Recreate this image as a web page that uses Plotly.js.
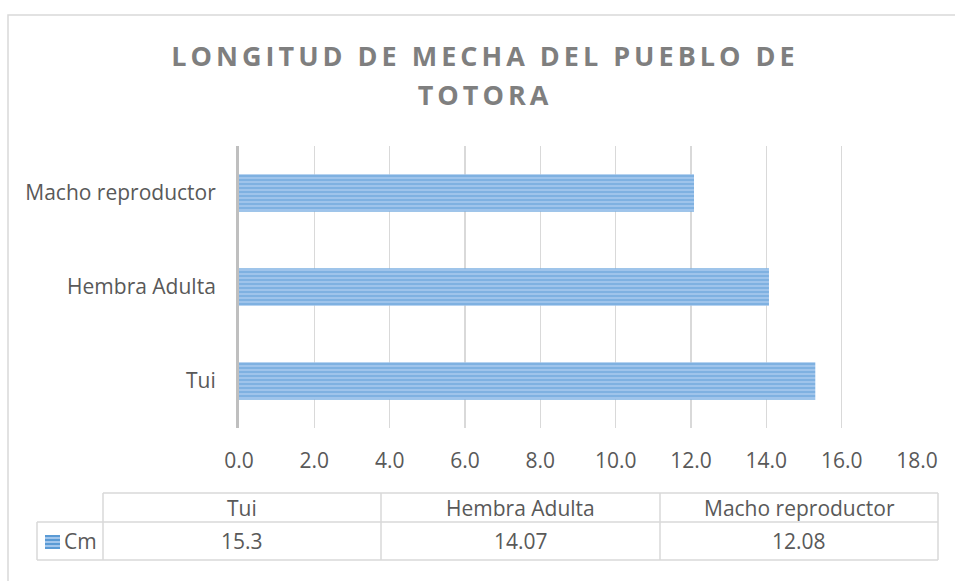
<!DOCTYPE html>
<html>
<head>
<meta charset="utf-8">
<script src="https://cdn.plot.ly/plotly-3.0.1.min.js"></script>
<style>html,body{margin:0;padding:0;background:#fff;}#chart{width:955px;height:581px;}</style>
</head>
<body>
<div id="chart"></div>
<script>
// ---- data ----
const categories = ["Tui", "Hembra Adulta", "Macho reproductor"];
const values = [15.3, 14.07, 12.08];
const seriesName = "Cm";
const xTickVals = [0, 2, 4, 6, 8, 10, 12, 14, 16, 18];
const xTickText = ["0.0", "2.0", "4.0", "6.0", "8.0", "10.0", "12.0", "14.0", "16.0", "18.0"];
const titleText = "LONGITUD DE MECHA DEL PUEBLO DE<br>TOTORA";

// ---- layout geometry (pixels) ----
const W = 955, H = 581;
const M = {l: 239, r: 38, t: 146, b: 153};
const plotW = W - M.l - M.r, plotH = H - M.t - M.b;
const px = p => (p - M.l) / plotW;
const py = p => (H - M.b - p) / plotH;
const colEdges = [103, 381, 660, 938];
const legendLeft = 37;
const rowTop = 493, rowMid = 522, rowBot = 560;
const gridCol = "#D9D9D9";
const textCol = "#595959";
const barDark = "#5B9BD5", barLight = "#A2C6EC";
const FONT = "Open Sans, DejaVu Sans, sans-serif";
const FS = 21;

const shapes = [];
const line = (x0, y0, x1, y1, color, width) => shapes.push({
  type: "line", xref: "paper", yref: "paper",
  x0: px(x0), y0: py(y0), x1: px(x1), y1: py(y1),
  line: {color: color || gridCol, width: width || 1.5}
});
// outer chart border
shapes.push({type: "rect", xref: "paper", yref: "paper",
  x0: px(8), y0: py(15), x1: px(W + 10), y1: py(H + 10),
  line: {color: gridCol, width: 1.5}, fillcolor: "rgba(0,0,0,0)", layer: "below"});
// table
line(colEdges[0], rowTop, colEdges[3], rowTop);
line(legendLeft, rowMid, colEdges[3], rowMid);
line(legendLeft, rowBot, colEdges[3], rowBot);
line(legendLeft, rowMid, legendLeft, rowBot);
colEdges.forEach(c => line(c, rowTop, c, rowBot));
// legend key swatch (striped)
const sw = {x0: 45, x1: 60, y0: 535, y1: 549};
shapes.push({type: "rect", xref: "paper", yref: "paper",
  x0: px(sw.x0), x1: px(sw.x1), y0: py(sw.y0), y1: py(sw.y1),
  line: {width: 0}, fillcolor: barLight});
for (let yy = sw.y0 + 1; yy < sw.y1; yy += 4) {
  line(sw.x0, yy, sw.x1, yy, barDark, 2);
}

const annotations = [];
categories.forEach((c, i) => {
  const cx = (colEdges[i] + colEdges[i + 1]) / 2;
  annotations.push({xref: "paper", yref: "paper", x: px(cx), y: py((rowTop + rowMid) / 2),
    text: c, showarrow: false, xanchor: "center", yanchor: "middle",
    font: {family: FONT, size: FS, color: textCol}});
  annotations.push({xref: "paper", yref: "paper", x: px(cx), y: py((rowMid + rowBot) / 2),
    text: String(values[i]), showarrow: false, xanchor: "center", yanchor: "middle",
    font: {family: FONT, size: FS, color: textCol}});
});
annotations.push({xref: "paper", yref: "paper", x: px(62), y: py((rowMid + rowBot) / 2),
  text: seriesName, showarrow: false, xanchor: "left", yanchor: "middle",
  font: {family: FONT, size: FS, color: textCol}});

const trace = {
  type: "bar", orientation: "h",
  y: categories, x: values, name: seriesName,
  width: 0.4,
  marker: {
    color: barLight,
    line: {width: 0},
    pattern: {shape: "-", size: 4, solidity: 0.55, fgcolor: barDark, bgcolor: barLight, fillmode: "overlay"}
  },
  showlegend: false,
  hoverinfo: "none"
};

const layout = {
  width: W, height: H,
  margin: M,
  paper_bgcolor: "#fff", plot_bgcolor: "#fff",
  font: {family: FONT, color: textCol},
  title: {text: titleText, x: 485 / W, xref: "container", xanchor: "center",
    y: 1 - 66 / H, yref: "container", yanchor: "top",
    font: {family: FONT, size: 27, color: "#7F7F7F", weight: "bold"}},
  xaxis: {range: [0, 18], tickvals: xTickVals, ticktext: xTickText,
    showgrid: true, gridcolor: gridCol, gridwidth: 1.3, zeroline: false, showline: false,
    ticks: "", ticklabelstandoff: 18, tickfont: {family: FONT, size: FS, color: textCol}, fixedrange: true},
  yaxis: {type: "category", range: [-0.5, 2.5], showgrid: false, zeroline: false,
    showline: true, linecolor: "#BFBFBF", linewidth: 3,
    ticks: "", ticklabelstandoff: 16, tickfont: {family: FONT, size: FS, color: textCol}, fixedrange: true},
  showlegend: false,
  shapes: shapes,
  annotations: annotations
};

Plotly.newPlot("chart", [trace], layout, {displayModeBar: false, staticPlot: true}).then(() => {
  document.querySelectorAll(".gtitle").forEach(el => {
    el.style.letterSpacing = "4px";
    el.querySelectorAll("tspan.line").forEach((t, i) => { if (i > 0) t.setAttribute("dy", "1.45em"); });
  });
});
</script>
</body>
</html>
